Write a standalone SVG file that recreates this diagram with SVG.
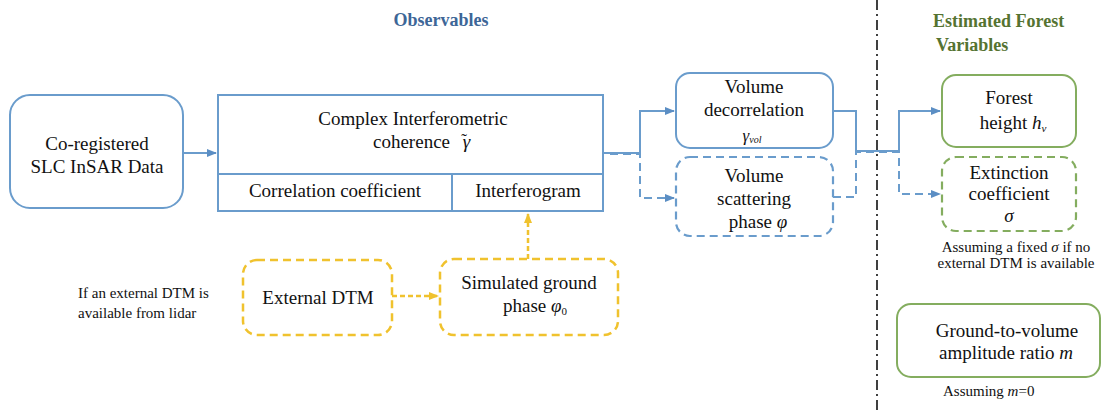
<svg xmlns="http://www.w3.org/2000/svg" width="1102" height="413" viewBox="0 0 1102 413" font-family="Liberation Serif">
<style>
text{font-family:'Liberation Serif','Times New Roman',serif;fill:#111;}
.t{font-size:19px;text-anchor:middle;}
.s{font-size:15px;}
.it{font-style:italic;}
.blue{fill:#fff;stroke:#6a9ccc;stroke-width:2;}
.blued{fill:#fff;stroke:#6a9ccc;stroke-width:2.2;stroke-dasharray:8 5;}
.green{fill:#fff;stroke:#84ad5f;stroke-width:2;}
.greend{fill:#fff;stroke:#84ad5f;stroke-width:2.2;stroke-dasharray:8 5;}
.yel{fill:#fff;stroke:#f0c22e;stroke-width:2.5;stroke-dasharray:8 5;}
.cb{fill:none;stroke:#6a9ccc;stroke-width:2;}
.cbd{fill:none;stroke:#6a9ccc;stroke-width:2;stroke-dasharray:8 5;}
.cy{fill:none;stroke:#f0c22e;stroke-width:2.5;stroke-dasharray:5 3;}
.hd{font-weight:bold;font-size:18px;}
</style>
<defs>
<marker id="ab" markerUnits="userSpaceOnUse" markerWidth="10" markerHeight="10" refX="9" refY="5" orient="auto"><path d="M0,1 L10,5 L0,9 Z" fill="#5b8ec4"/></marker>
<marker id="ay" markerUnits="userSpaceOnUse" markerWidth="10" markerHeight="10" refX="9" refY="5" orient="auto"><path d="M0,1 L10,5 L0,9 Z" fill="#f0c22e"/></marker>
</defs>

<text class="hd" x="441" y="26" text-anchor="middle" style="fill:#3d6697">Observables</text>
<text class="hd" x="933" y="27" style="fill:#557331">Estimated Forest</text>
<text class="hd" x="936" y="51" style="fill:#557331">Variables</text>

<line x1="877" y1="0" x2="877" y2="413" stroke="#111" stroke-width="1.6" stroke-dasharray="10 4 2 4"/>

<g id="connectors">
<path class="cb" d="M183,153 H216" marker-end="url(#ab)"/>
<path class="cb" d="M603,153 H640 V111 H674" marker-end="url(#ab)"/>
<path class="cbd" d="M610,154 H640 V198 H674" marker-end="url(#ab)"/>
<path class="cb" d="M833,111 H856 V151 H899 V111 H940" marker-end="url(#ab)"/>
<path class="cbd" d="M833,197 H856 V152 H899 V194 H940" marker-end="url(#ab)"/>
<path class="cy" d="M392,296 H438" marker-end="url(#ay)"/>
<path class="cy" d="M528,259 V214" marker-end="url(#ay)"/>
</g>

<g id="coreg">
<rect class="blue" x="10" y="95" width="173" height="113" rx="20"/>
<text class="t" x="97" y="150">Co-registered</text>
<text class="t" x="97" y="173">SLC InSAR Data</text>
</g>

<g id="coherence">
<rect class="blue" x="218" y="95" width="385" height="116"/>
<line class="cb" x1="218" y1="174" x2="603" y2="174"/>
<line class="cb" x1="452" y1="174" x2="452" y2="211"/>
<text class="t" x="413" y="125">Complex Interferometric</text>
<text class="t" x="373" y="148" style="text-anchor:start">coherence <tspan class="it" dx="8">γ</tspan><tspan dx="-9" dy="-3" style="font-size:17px">˜</tspan></text>
<text class="t" x="335" y="197">Correlation coefficient</text>
<text class="t" x="528" y="197">Interferogram</text>
</g>

<g id="voldecor">
<rect class="blue" x="676" y="73" width="157" height="75" rx="14"/>
<text class="t" x="754" y="93">Volume</text>
<text class="t" x="754" y="116">decorrelation</text>
<text class="t it" x="752" y="141" style="font-size:17px">γ<tspan style="font-size:10px" dy="2">vol</tspan></text>
</g>

<g id="volscat">
<rect class="blued" x="676" y="157" width="157" height="79" rx="14"/>
<text class="t" x="754" y="182">Volume</text>
<text class="t" x="754" y="205">scattering</text>
<text class="t" x="758" y="228">phase <tspan class="it">φ</tspan></text>
</g>

<g id="forestheight">
<rect class="green" x="942" y="75" width="134" height="72" rx="14"/>
<text class="t" x="1009" y="104">Forest</text>
<text class="t" x="1013" y="129">height <tspan class="it">h</tspan><tspan class="it" style="font-size:11px" dy="3">v</tspan></text>
</g>

<g id="extinction">
<rect class="greend" x="942" y="157" width="134" height="74" rx="14"/>
<text class="t" x="1009" y="179">Extinction</text>
<text class="t" x="1009" y="200">coefficient</text>
<text class="t it" x="1009" y="222">σ</text>
</g>
<text class="s" x="1016" y="252" text-anchor="middle">Assuming a fixed <tspan class="it">σ</tspan> if no</text>
<text class="s" x="1016" y="268" text-anchor="middle">external DTM is available</text>

<g id="groundvolume">
<rect class="green" x="897" y="304" width="203" height="73" rx="14"/>
<text class="t" x="1007" y="337">Ground-to-volume</text>
<text class="t" x="1006" y="359">amplitude ratio <tspan class="it">m</tspan></text>
</g>
<text class="s" x="943" y="396">Assuming <tspan class="it">m</tspan>=0</text>

<text class="s" x="78" y="298">If an external DTM is</text>
<text class="s" x="78" y="318">available from lidar</text>

<g id="externaldtm">
<rect class="yel" x="243" y="260" width="149" height="75" rx="14"/>
<text class="t" x="318" y="304">External DTM</text>
</g>

<g id="simground">
<rect class="yel" x="440" y="259" width="178" height="76" rx="14"/>
<text class="t" x="529" y="289">Simulated ground</text>
<text class="t" x="535" y="312">phase <tspan class="it">φ</tspan><tspan style="font-size:11px" dy="3">0</tspan></text>
</g>
</svg>
